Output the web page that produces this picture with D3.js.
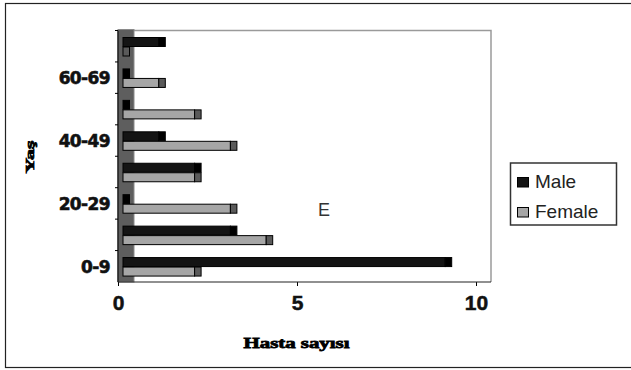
<!DOCTYPE html>
<html>
<head>
<meta charset="utf-8">
<script src="https://cdn.jsdelivr.net/npm/d3@7"></script>
<style>
  html, body { margin: 0; padding: 0; background: #fff; }
  svg { display: block; }
</style>
</head>
<body>
<svg id="chart" width="631" height="370"></svg>
<script>
// Age groups (bottom to top) and patient counts per group
const categories = ["0-9", "10-19", "20-29", "30-39", "40-49", "50-59", "60-69", "70+"];
const categoryLabels = ["0-9", "", "20-29", "", "40-49", "", "60-69", ""];
const male = [9, 3, 0, 2, 1, 0, 0, 1];
const female = [2, 4, 3, 2, 3, 2, 1, 0];
const seriesNames = ["Male", "Female"];
const xTicks = [0, 5, 10];

const svg = d3.select("#chart");

// outer frame
svg.append("rect")
  .attr("x", 5.5).attr("y", 3.5).attr("width", 640).attr("height", 364)
  .attr("fill", "#fff").attr("stroke", "#222").attr("stroke-width", 1.2);

const plot = { left: 118, right: 491, top: 30.5, bottom: 282 };

const x = d3.scaleLinear().domain([0, 10]).range([118, 476]);
const y = d3.scaleBand().domain(categories).range([plot.bottom, plot.top]);

// 3D depth offset of bars in front of the side wall
const depth = 5;
const cap = 6.5;
const barH = 9;

// plot area border (top and right)
svg.append("path")
  .attr("d", `M${plot.left + 16},${plot.top}H${plot.right}V${plot.bottom}`)
  .attr("fill", "none").attr("stroke", "#9a9a9a").attr("stroke-width", 1.5);

// side wall
svg.append("rect")
  .attr("x", plot.left).attr("y", plot.top - 1)
  .attr("width", 16).attr("height", plot.bottom - plot.top + 1)
  .attr("fill", "#5e5e5e").attr("stroke", "#8a8a8a").attr("stroke-width", 1);

// bars
const groups = svg.append("g").selectAll("g")
  .data(categories)
  .join("g")
  .attr("transform", d => `translate(0,${y(d)})`);

const series = [
  { name: seriesNames[0], values: male, fill: "#141414", capFill: "#000", off: 7 },
  { name: seriesNames[1], values: female, fill: "#a6a6a6", capFill: "#5a5a5a", off: 16.5 }
];

series.forEach(s => {
  groups.each(function(d, i) {
    const g = d3.select(this);
    const v = s.values[i];
    const x0 = x(0) + depth;
    const x1 = x(v) + depth;
    if (v > 0) {
      g.append("rect")
        .attr("x", x0).attr("y", s.off)
        .attr("width", x1 - x0).attr("height", barH)
        .attr("fill", s.fill).attr("stroke", "#000").attr("stroke-width", 1);
    }
    g.append("rect")
      .attr("x", x1).attr("y", s.off)
      .attr("width", cap).attr("height", barH)
      .attr("fill", s.capFill).attr("stroke", "#000").attr("stroke-width", 1);
  });
});

// category axis
svg.append("line")
  .attr("x1", plot.left).attr("x2", plot.left)
  .attr("y1", plot.top).attr("y2", plot.bottom)
  .attr("stroke", "#000").attr("stroke-width", 1.2);
svg.append("g").selectAll("line")
  .data(categories.slice(1).concat(["top"]))
  .join("line")
  .attr("x1", plot.left - 3).attr("x2", plot.left)
  .attr("y1", d => d === "top" ? plot.top : y(d) + y.bandwidth())
  .attr("y2", d => d === "top" ? plot.top : y(d) + y.bandwidth())
  .attr("stroke", "#000");

svg.append("g").selectAll("text")
  .data(categories)
  .join("text")
  .attr("x", 110)
  .attr("y", d => y(d) + y.bandwidth() / 2 + 6.5)
  .attr("text-anchor", "end")
  .attr("font-family", "DejaVu Sans")
  .attr("font-weight", "bold")
  .attr("font-size", 17)
  .attr("letter-spacing", -0.6)
  .attr("fill", "#111")
  .attr("stroke", "#111").attr("stroke-width", 0.6)
  .text((d, i) => categoryLabels[i]);

// value axis
const xAxis = svg.append("g")
  .attr("transform", `translate(0,${plot.bottom})`)
  .call(d3.axisBottom(x).tickValues(xTicks).tickSize(4).tickPadding(9).tickFormat(d3.format("d")));
xAxis.select(".domain").remove();
xAxis.selectAll(".tick line").attr("stroke", "#000");
xAxis.selectAll(".tick text")
  .attr("font-family", "Liberation Sans, Arial, sans-serif")
  .attr("font-weight", "bold")
  .attr("font-size", 21)
  .attr("fill", "#111")
  .attr("stroke", "#111").attr("stroke-width", 0.5);
svg.append("line")
  .attr("x1", plot.left).attr("x2", plot.right)
  .attr("y1", plot.bottom).attr("y2", plot.bottom)
  .attr("stroke", "#222").attr("stroke-width", 1.2);

// axis titles
svg.append("text")
  .attr("x", 296.5).attr("y", 348)
  .attr("text-anchor", "middle")
  .attr("font-family", "Liberation Serif, serif")
  .attr("font-weight", "bold")
  .attr("font-size", 15)
  .attr("textLength", 106)
  .attr("lengthAdjust", "spacingAndGlyphs")
  .attr("stroke", "#000").attr("stroke-width", 0.8)
  .attr("fill", "#000")
  .text("Hasta sayısı");

svg.append("text")
  .attr("transform", "translate(33.5,157) rotate(-90)")
  .attr("text-anchor", "middle")
  .attr("font-family", "Liberation Serif, serif")
  .attr("font-weight", "bold")
  .attr("font-size", 13)
  .attr("textLength", 33)
  .attr("lengthAdjust", "spacingAndGlyphs")
  .attr("stroke", "#000").attr("stroke-width", 0.7)
  .attr("fill", "#000")
  .text("Yaş");

// panel letter
svg.append("text")
  .attr("x", 324).attr("y", 216)
  .attr("text-anchor", "middle")
  .attr("font-family", "Liberation Sans, Arial, sans-serif")
  .attr("font-size", 18)
  .attr("fill", "#333")
  .text("E");

// legend
const legend = svg.append("g");
legend.append("rect")
  .attr("x", 510.5).attr("y", 163).attr("width", 106).attr("height", 62)
  .attr("fill", "#fff").attr("stroke", "#333").attr("stroke-width", 1.5);
const legendItems = legend.selectAll("g")
  .data(series)
  .join("g")
  .attr("transform", (d, i) => `translate(517,${177 + i * 30})`);
legendItems.append("rect")
  .attr("x", 0.5).attr("y", 0.5).attr("width", 11).attr("height", 9.5)
  .attr("fill", d => d.fill).attr("stroke", "#000").attr("stroke-width", 1);
legendItems.append("text")
  .attr("x", 18).attr("y", 10.5)
  .attr("font-family", "Liberation Sans, Arial, sans-serif")
  .attr("font-size", 19)
  .attr("fill", "#222")
  .text(d => d.name);
</script>
</body>
</html>
